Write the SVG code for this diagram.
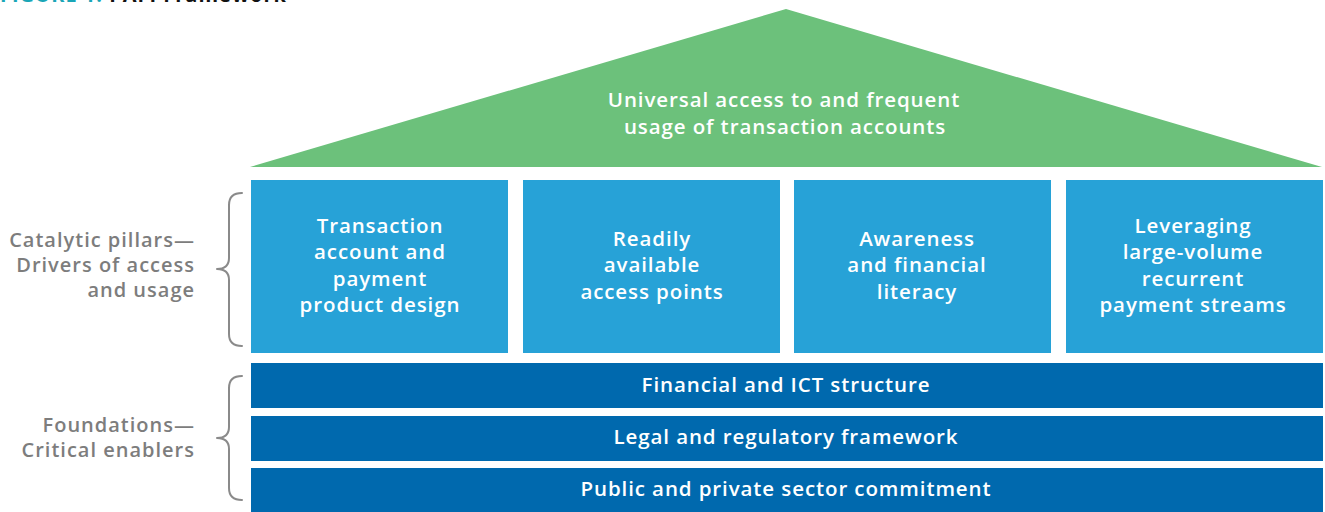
<svg xmlns="http://www.w3.org/2000/svg" width="1325" height="512" viewBox="0 0 1325 512">
<style>
.t{font-family:"Open Sans","Noto Sans","Liberation Sans",sans-serif;font-weight:600;font-size:20.5px;letter-spacing:0.9px;fill:#fff;text-anchor:middle}
.lbl{font-family:"Open Sans","Noto Sans","Liberation Sans",sans-serif;font-weight:600;font-size:20px;letter-spacing:1px;fill:#7d7d7d;text-anchor:end}
.pillar{fill:#27a2d7}
.found{fill:#0069ae}
.brace{fill:none;stroke:#8a8a8a;stroke-width:2;stroke-linecap:round;stroke-linejoin:round}
</style>
<rect width="1325" height="512" fill="#fff"/>
<text x="0" y="2" font-family="'Open Sans','Liberation Sans',sans-serif" font-weight="700" font-size="20" letter-spacing="1"><tspan fill="#1aa6b7">FIGURE 1: </tspan><tspan fill="#111">PAFI Framework</tspan></text>
<g id="roof">
<polygon points="786,9 1322,167 250,167" fill="#6cc17b"/>
<text class="t"><tspan x="784" y="107">Universal access to and frequent</tspan><tspan x="785" y="134">usage of transaction accounts</tspan></text>
</g>
<g id="pillar1">
<rect class="pillar" x="251" y="180" width="257" height="173"/>
<text class="t"><tspan x="380" y="233">Transaction</tspan><tspan x="380" y="259">account and</tspan><tspan x="380" y="286">payment</tspan><tspan x="380" y="312">product design</tspan></text>
</g>
<g id="pillar2">
<rect class="pillar" x="523" y="180" width="257" height="173"/>
<text class="t"><tspan x="652" y="246">Readily</tspan><tspan x="652" y="272">available</tspan><tspan x="652" y="299">access points</tspan></text>
</g>
<g id="pillar3">
<rect class="pillar" x="794" y="180" width="257" height="173"/>
<text class="t"><tspan x="917" y="246">Awareness</tspan><tspan x="917" y="272">and financial</tspan><tspan x="917" y="299">literacy</tspan></text>
</g>
<g id="pillar4">
<rect class="pillar" x="1066" y="180" width="257" height="173"/>
<text class="t"><tspan x="1193" y="233">Leveraging</tspan><tspan x="1193" y="259">large-volume</tspan><tspan x="1193" y="286">recurrent</tspan><tspan x="1193" y="312">payment streams</tspan></text>
</g>
<g id="foundation1">
<rect class="found" x="251" y="363" width="1072" height="45"/>
<text class="t" x="786" y="392">Financial and ICT structure</text>
</g>
<g id="foundation2">
<rect class="found" x="251" y="416" width="1072" height="45"/>
<text class="t" x="786" y="444">Legal and regulatory framework</text>
</g>
<g id="foundation3">
<rect class="found" x="251" y="468" width="1072" height="44"/>
<text class="t" x="786" y="496">Public and private sector commitment</text>
</g>
<g id="label-pillars">
<path class="brace" d="M242,193 Q229,193 229,205 L229,258 Q229,269 217,269 Q229,269 229,280 L229,334 Q229,346 242,346"/>
<text class="lbl"><tspan x="195" y="247">Catalytic pillars—</tspan><tspan x="195" y="272">Drivers of access</tspan><tspan x="195" y="297">and usage</tspan></text>
</g>
<g id="label-foundations">
<path class="brace" d="M242,376 Q229,376 229,388 L229,427 Q229,438 217,438 Q229,438 229,449 L229,488 Q229,500 242,500"/>
<text class="lbl"><tspan x="195" y="432">Foundations—</tspan><tspan x="195" y="457">Critical enablers</tspan></text>
</g>
<g id="connectors"></g>
</svg>
